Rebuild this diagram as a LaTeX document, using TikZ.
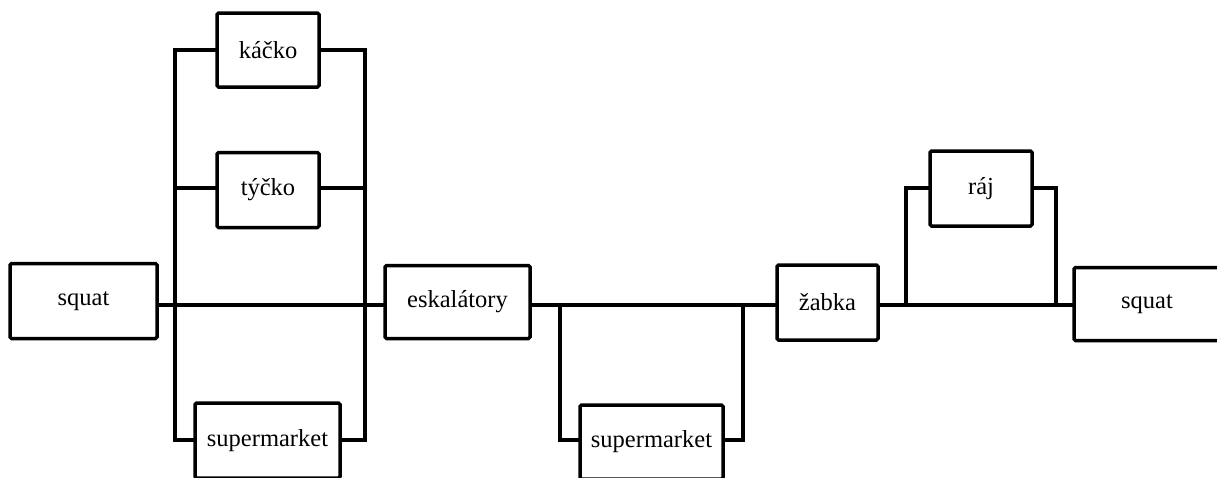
\documentclass[tikz,border=0pt]{standalone}
\usepackage{fontspec}
\setmainfont{Liberation Serif}
\begin{document}
\begin{tikzpicture}[x=1pt,y=-1pt,
  box/.style={draw=black, line width=3.5pt, rounded corners=1.5pt, fill=white, inner sep=0pt,
    font=\fontsize{24.5}{28}\selectfont, minimum width=#1, minimum height=75pt},
  box/.default=102pt,
  wire/.style={draw=black, line width=3.5pt, line cap=rect}]
\useasboundingbox (0,0) rectangle (1217,477);
% junction coordinates
\coordinate (J) at (0,305);
\coordinate (La) at (175,50);
\coordinate (Lb) at (175,188);
\coordinate (Lc) at (175,440);
\coordinate (Ra) at (365,50);
\coordinate (Rb) at (365,188);
\coordinate (Rc) at (365,440);
\coordinate (Ma) at (560,305);
\coordinate (Mb) at (560,440);
\coordinate (Na) at (743,305);
\coordinate (Nb) at (743,440);
\coordinate (Pa) at (906,305);
\coordinate (Pb) at (906,188);
\coordinate (Qa) at (1056,305);
\coordinate (Qb) at (1056,188);
% wires
\draw[wire] (La) -- (Lc);
\draw[wire] (Ra) -- (Rc);
\draw[wire] (Ma) -- (Mb);
\draw[wire] (Na) -- (Nb);
\draw[wire] (Pa) -- (Pb);
\draw[wire] (Qa) -- (Qb);
% nodes
\node[box=147pt] (squat1) at (83.5,301) {squat};
\node[box, minimum height=74pt] (kacko) at (268,50) {káčko};
\node[box] (tycko) at (268,190) {týčko};
\node[box=145pt] (sm1) at (267.5,440.5) {supermarket};
\node[box=145pt, minimum height=73pt] (esk) at (457.5,302) {eskalátory};
\node[box=143pt, minimum height=74pt] (sm2) at (651.5,442) {supermarket};
\node[box=101pt] (zabka) at (827.5,302.5) {žabka};
\node[box] (raj) at (981,188.5) {ráj};
\node[box=146pt, minimum height=73pt] (squat2) at (1147,304) {squat};
% connectors
\draw[wire] (squat1.east|-J) -- (esk.west|-J);
\draw[wire] (esk.east|-J) -- (zabka.west|-J);
\draw[wire] (zabka.east|-J) -- (squat2.west|-J);
\draw[wire] (La) -- (kacko.west|-La);
\draw[wire] (kacko.east|-Ra) -- (Ra);
\draw[wire] (Lb) -- (tycko.west|-Lb);
\draw[wire] (tycko.east|-Rb) -- (Rb);
\draw[wire] (Lc) -- (sm1.west|-Lc);
\draw[wire] (sm1.east|-Rc) -- (Rc);
\draw[wire] (Mb) -- (sm2.west|-Mb);
\draw[wire] (sm2.east|-Nb) -- (Nb);
\draw[wire] (Pb) -- (raj.west|-Pb);
\draw[wire] (raj.east|-Qb) -- (Qb);
\end{tikzpicture}
\end{document}
